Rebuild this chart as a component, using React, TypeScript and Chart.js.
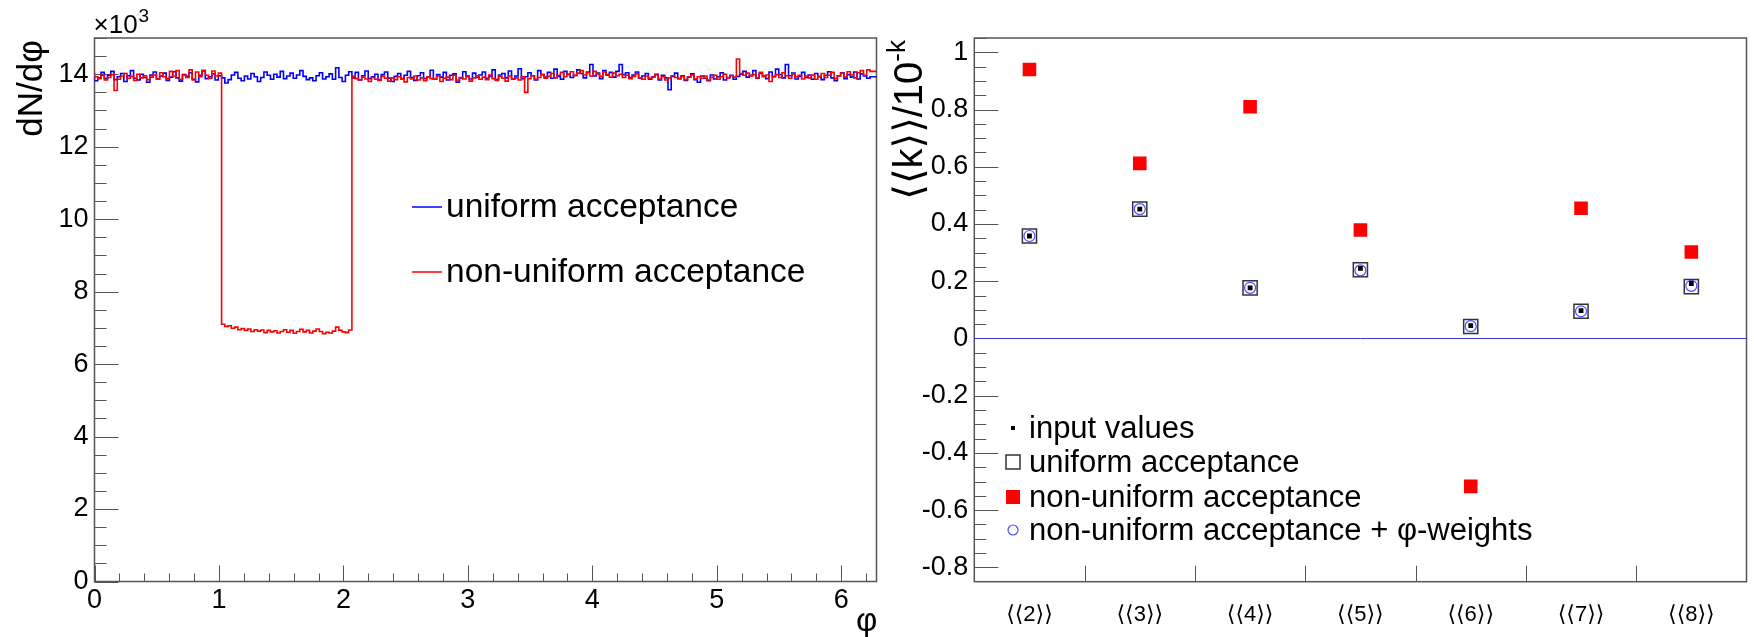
import React, { useEffect, useRef } from "react";
import { Chart, registerables } from "chart.js";
Chart.register(...registerables);

const FONT = "'Liberation Sans', Arial, Helvetica, sans-serif";
const BFONT = "'Liberation Sans', 'DejaVu Sans', sans-serif";

// ---- left panel: dN/dphi histograms (values in units of 10^3), 240 bins over [0, 2pi]
const PHI_MAX = 2 * Math.PI;
const uniformCounts = [
  13.95, 13.82, 13.9, 14.05, 13.88, 13.97, 14.08, 13.85, 13.93, 14.02, 13.8, 13.96, 14.1, 13.89, 13.84, 14.0, 13.91, 13.78, 13.98, 14.06,
  13.87, 13.95, 14.03, 13.83, 13.92, 14.07, 13.9, 13.81, 13.99, 13.94, 14.04, 13.86, 13.79, 13.97, 14.09, 13.88, 13.93, 14.01, 13.84, 13.96,
  13.9, 13.76, 13.85, 13.98, 14.05, 13.89, 13.82, 13.95, 13.87, 14.02, 13.93, 13.8, 13.91, 14.06, 13.97, 13.86, 14.0, 13.92, 14.08, 13.88,
  13.95, 14.03, 13.89, 13.98, 14.1, 13.94, 13.85, 13.9, 13.82, 13.96, 14.04, 13.87, 13.93, 14.01, 13.86, 14.18, 13.91, 13.8, 13.97, 14.07,
  13.9, 14.05, 13.84, 13.96, 14.09, 13.88, 13.93, 14.0, 13.85, 13.99, 14.06, 13.89, 13.8, 13.94, 14.02, 13.87, 13.97, 14.08, 13.91, 13.83,
  13.96, 14.04, 13.88, 13.93, 14.11, 13.86, 13.99, 13.92, 14.05, 13.84, 13.97, 14.01, 13.78, 13.9, 14.07, 13.95, 13.87, 14.03, 13.91, 13.98,
  14.06, 13.89, 13.94, 14.12, 13.85, 13.98, 14.02, 13.9, 14.09, 13.87, 13.95, 14.15, 13.88, 13.93, 14.04, 13.96, 13.84, 14.1, 13.99, 13.92,
  14.05, 13.89, 14.14, 13.94, 13.86, 14.08, 14.0, 13.91, 13.97, 14.12, 14.02, 13.9, 14.06, 14.27, 13.95, 14.03, 13.88, 14.1, 13.97, 14.05,
  13.92, 14.08, 14.27, 13.99, 14.04, 13.91, 13.98, 14.06, 13.89, 13.95, 14.02, 13.86, 13.93, 14.0, 13.84, 13.97, 13.9, 13.57, 13.94, 14.03,
  13.88, 13.96, 13.83, 13.92, 14.01, 13.85, 13.78, 13.95, 13.89, 13.82, 13.98, 13.87, 13.93, 14.04, 13.84, 13.91, 13.97, 13.86, 13.94, 14.0,
  14.08, 13.92, 13.97, 14.1, 13.89, 14.02, 13.95, 13.88, 14.06, 13.93, 14.14, 13.99, 13.9, 14.27, 13.96, 14.03, 13.87, 13.94, 14.05, 13.91,
  13.98, 13.86, 14.02, 13.93, 13.85, 13.97, 14.07, 13.9, 13.82, 13.96, 14.04, 13.88, 13.99, 13.92, 14.06, 13.87, 14.01, 13.95, 13.89, 13.93,
];
const nonUniformCounts = [
  14.05, 13.93, 13.88, 13.97, 13.84, 13.91, 13.99, 13.55, 13.86, 13.95, 14.02, 13.89, 13.94, 13.83, 14.0, 13.9, 13.96, 13.85, 13.92, 13.98,
  13.87, 14.04, 13.93, 13.88, 14.08, 13.95, 14.1, 13.86, 13.98, 13.91, 14.12, 13.84, 14.06, 13.93, 14.11, 13.97, 13.89, 14.09, 13.95, 14.03,
  7.1, 7.04, 7.06, 6.99, 7.02, 6.95, 6.98, 6.93, 6.97, 6.9, 6.95, 6.91, 6.94, 6.87, 6.93, 6.89, 6.92, 6.86, 6.9, 6.95,
  6.88, 6.93, 6.85, 6.9, 6.96, 6.89, 6.93, 6.86, 6.91, 6.97, 6.9, 6.84, 6.88, 6.86, 6.91, 7.02, 6.93, 6.89, 6.87, 6.94,
  13.95, 13.88, 13.84, 13.92, 13.87, 13.8, 13.91, 13.86, 13.83, 13.94, 13.89, 13.81, 13.9, 13.85, 13.93, 13.88, 13.79, 13.91, 13.87, 13.95,
  13.84, 13.9, 13.82, 13.93, 13.88, 13.86, 13.95, 13.8, 13.89, 13.92, 13.85, 13.97, 13.83, 13.91, 13.87, 13.94, 13.81, 13.9, 13.96, 13.86,
  13.92, 13.85, 13.98, 13.88, 13.83, 13.94, 13.89, 13.81, 13.95, 13.87, 13.9, 13.84, 13.93, 13.5, 13.88, 13.96, 13.86, 13.91, 13.99, 13.89,
  13.94, 14.02, 13.9, 13.97, 14.05, 13.93, 13.99, 14.07, 13.96, 14.03, 14.1, 13.98, 14.04, 13.95, 14.08, 14.01, 13.94, 14.06, 13.99, 13.92,
  14.03, 13.96, 14.0, 13.91, 13.97, 13.88, 13.94, 14.01, 13.9, 13.86, 13.95, 13.89, 13.92, 13.98, 13.87, 13.93, 13.84, 13.9, 13.96, 13.91,
  13.88, 13.94, 13.85, 13.92, 13.98, 13.87, 13.93, 13.89, 13.95, 13.84, 13.91, 13.97, 13.86, 13.93, 14.0, 13.9, 13.96, 13.92, 14.42, 14.02,
  13.97, 14.03, 13.95, 13.99, 13.9, 14.05, 13.93, 13.98, 13.8, 13.94, 13.99, 13.91, 14.04, 13.96, 13.89, 14.01, 13.93, 13.97, 13.87, 13.95,
  13.9, 13.98, 13.86, 13.94, 14.02, 13.91, 13.97, 14.05, 13.88, 13.95, 14.03, 13.92, 14.07, 13.98, 13.9, 14.04, 14.1, 13.97, 14.12, 14.08,
];

// ---- right panel: cumulants
const categories = ["⟨⟨2⟩⟩", "⟨⟨3⟩⟩", "⟨⟨4⟩⟩", "⟨⟨5⟩⟩", "⟨⟨6⟩⟩", "⟨⟨7⟩⟩", "⟨⟨8⟩⟩"];
const inputValues = [0.358, 0.452, 0.177, 0.245, 0.045, 0.097, 0.192];
const uniformValues = [0.358, 0.452, 0.177, 0.24, 0.042, 0.095, 0.181];
const nonUniformValues = [0.94, 0.612, 0.81, 0.379, -0.517, 0.455, 0.302];
const weightedValues = [0.358, 0.452, 0.177, 0.238, 0.043, 0.095, 0.184];

const W = 1754;
const H = 637;
const AXIS = "#555";

function stepPoints(vals: number[]) {
  const w = PHI_MAX / vals.length;
  const pts = vals.map((v, i) => ({ x: i * w, y: v }));
  pts.push({ x: PHI_MAX, y: vals[vals.length - 1] });
  return pts;
}

function tickLine(ctx: CanvasRenderingContext2D, x1: number, y1: number, x2: number, y2: number) {
  ctx.beginPath();
  ctx.moveTo(x1, y1);
  ctx.lineTo(x2, y2);
  ctx.stroke();
}

const leftDecor = {
  id: "leftDecor",
  beforeDatasetsDraw(chart: any) {
    const { ctx, chartArea: a, scales } = chart;
    const xs = scales.x, ys = scales.y;
    ctx.save();
    ctx.strokeStyle = AXIS;
    ctx.lineWidth = 1;
    for (let k = 0; k <= 30; k++) {
      const v = k * 0.5;
      const y = Math.round(ys.getPixelForValue(v)) + 0.5;
      if (y < a.top) continue;
      const len = k % 4 === 0 ? 24 : 12;
      tickLine(ctx, a.left, y, a.left + len, y);
    }
    for (let k = 0; k <= 31; k++) {
      const v = k * 0.2;
      const x = Math.round(xs.getPixelForValue(v)) + 0.5;
      if (x > a.right) continue;
      const len = k % 5 === 0 ? 16 : 8;
      tickLine(ctx, x, a.bottom, x, a.bottom - len);
    }
    ctx.lineWidth = 1.5;
    ctx.strokeRect(a.left, a.top, a.right - a.left, a.bottom - a.top);
    ctx.restore();
  },
  afterDraw(chart: any) {
    const { ctx, chartArea: a } = chart;
    ctx.save();
    ctx.fillStyle = "#000";
    // x10^3
    ctx.textAlign = "left";
    ctx.textBaseline = "alphabetic";
    ctx.font = `26px ${FONT}`;
    ctx.fillText("×10", a.left - 1, 33);
    const w = ctx.measureText("×10").width;
    ctx.font = `19px ${FONT}`;
    ctx.fillText("3", a.left - 1 + w + 1, 22);
    // y title
    ctx.save();
    ctx.translate(42, 40);
    ctx.rotate(-Math.PI / 2);
    ctx.font = `35px ${FONT}`;
    ctx.textAlign = "right";
    ctx.fillText("dN/dφ", 0, 0);
    ctx.restore();
    // x title
    ctx.font = `33px ${FONT}`;
    ctx.textAlign = "right";
    ctx.fillText("φ", a.right + 1, 631);
    // legend
    const rows = [
      { c: "#0000ff", t: "uniform acceptance", y: 207 },
      { c: "#ff0000", t: "non-uniform acceptance", y: 272 },
    ];
    ctx.font = `33.5px ${FONT}`;
    ctx.textAlign = "left";
    ctx.textBaseline = "middle";
    for (const r of rows) {
      ctx.strokeStyle = r.c;
      ctx.lineWidth = 1.5;
      tickLine(ctx, 412, r.y, 442, r.y);
      ctx.fillStyle = "#000";
      ctx.fillText(r.t, 446, r.y + 1);
    }
    ctx.restore();
  },
};

function drawMarker(ctx: CanvasRenderingContext2D, kind: string, x: number, y: number) {
  ctx.save();
  if (kind === "dot") {
    ctx.fillStyle = "#000";
    ctx.fillRect(x - 2, y - 2, 4, 4);
  } else if (kind === "open") {
    ctx.strokeStyle = "#333";
    ctx.lineWidth = 1.5;
    ctx.strokeRect(x - 7, y - 7, 14, 14);
  } else if (kind === "red") {
    ctx.fillStyle = "#ff0000";
    ctx.fillRect(x - 7, y - 7, 14, 14);
  } else {
    ctx.strokeStyle = "#4d4dff";
    ctx.lineWidth = 1.2;
    ctx.beginPath();
    ctx.arc(x, y, 5, 0, Math.PI * 2);
    ctx.stroke();
  }
  ctx.restore();
}

const rightDecor = {
  id: "rightDecor",
  beforeDatasetsDraw(chart: any) {
    const { ctx, chartArea: a, scales } = chart;
    const xs = scales.x, ys = scales.y;
    ctx.save();
    ctx.strokeStyle = AXIS;
    ctx.lineWidth = 1;
    for (let k = -17; k <= 21; k++) {
      const v = k * 0.05;
      const y = Math.round(ys.getPixelForValue(v)) + 0.5;
      if (y < a.top || y > a.bottom) continue;
      const len = k % 4 === 0 ? 24 : 12;
      tickLine(ctx, a.left, y, a.left + len, y);
    }
    for (let i = 0; i < categories.length - 1; i++) {
      const x = Math.round((xs.getPixelForTick(i) + xs.getPixelForTick(i + 1)) / 2) + 0.5;
      tickLine(ctx, x, a.bottom, x, a.bottom - 16);
    }
    ctx.lineWidth = 1.5;
    ctx.strokeRect(a.left, a.top, a.right - a.left, a.bottom - a.top);
    // zero line
    ctx.strokeStyle = "#3a3ad6";
    ctx.lineWidth = 1;
    const y0 = Math.round(ys.getPixelForValue(0)) + 0.5;
    tickLine(ctx, a.left, y0, a.right, y0);
    ctx.restore();
  },
  afterDraw(chart: any) {
    const { ctx } = chart;
    ctx.save();
    ctx.fillStyle = "#000";
    // y title, rotated, right-aligned at the top
    ctx.save();
    ctx.translate(42, 40);
    ctx.rotate(-Math.PI / 2);
    ctx.textBaseline = "alphabetic";
    ctx.textAlign = "left";
    ctx.font = `40px ${BFONT}`;
    const main = "⟨⟨k⟩⟩/10";
    const w1 = ctx.measureText(main).width;
    ctx.font = `26px ${BFONT}`;
    const sup = "-k";
    const w2 = ctx.measureText(sup).width;
    ctx.font = `40px ${BFONT}`;
    ctx.fillText(main, -(w1 + w2), 0);
    ctx.font = `26px ${BFONT}`;
    ctx.fillText(sup, -w2, -17);
    ctx.restore();
    // legend
    const rows = [
      { k: "dot", t: "input values", y: 428 },
      { k: "open", t: "uniform acceptance", y: 462 },
      { k: "red", t: "non-uniform acceptance", y: 497 },
      { k: "circle", t: "non-uniform acceptance + φ-weights", y: 530 },
    ];
    ctx.font = `31px ${FONT}`;
    ctx.textAlign = "left";
    ctx.textBaseline = "middle";
    for (const r of rows) {
      drawMarker(ctx, r.k, 133, r.y);
      ctx.fillStyle = "#000";
      ctx.fillText(r.t, 149, r.y + 1);
    }
    ctx.restore();
  },
};

export default function App() {
  const leftRef = useRef<HTMLCanvasElement>(null);
  const rightRef = useRef<HTMLCanvasElement>(null);

  useEffect(() => {
    document.body.style.margin = "0";
    const left = new Chart(leftRef.current!, {
      type: "line",
      data: {
        datasets: [
          {
            label: "uniform acceptance",
            data: stepPoints(uniformCounts),
            borderColor: "#0000ff",
            borderWidth: 1.6,
            stepped: "after",
            pointRadius: 0,
            fill: false,
            order: 1,
          },
          {
            label: "non-uniform acceptance",
            data: stepPoints(nonUniformCounts),
            borderColor: "#ff0000",
            borderWidth: 1.6,
            stepped: "after",
            pointRadius: 0,
            fill: false,
            order: 0,
          },
        ],
      } as any,
      options: {
        animation: false,
        responsive: false,
        events: [],
        layout: { padding: { top: 38, left: 0, right: 3.5, bottom: 0 } },
        plugins: { legend: { display: false }, tooltip: { enabled: false } },
        scales: {
          x: {
            type: "linear",
            min: 0,
            max: PHI_MAX,
            border: { display: false },
            grid: { display: false, drawTicks: false },
            ticks: {
              stepSize: 1,
              includeBounds: false,
              padding: 3,
              color: "#000",
              font: { family: FONT, size: 27 },
              maxRotation: 0,
              callback: (v: any) => String(Math.round(Number(v))),
            },
            afterFit: (s: any) => {
              s.height = H - 581.5;
            },
          },
          y: {
            min: 0,
            max: 15,
            border: { display: false },
            grid: { display: false, drawTicks: false },
            ticks: {
              stepSize: 2,
              includeBounds: false,
              padding: 6,
              color: "#000",
              font: { family: FONT, size: 27 },
              callback: (v: any) => String(Math.round(Number(v))),
            },
            afterFit: (s: any) => {
              s.width = 94.5;
            },
          },
        },
      } as any,
      plugins: [leftDecor],
    });

    const right = new Chart(rightRef.current!, {
      type: "line",
      data: {
        labels: categories,
        datasets: [
          {
            label: "input values",
            data: inputValues,
            showLine: false,
            pointStyle: "rect",
            pointRadius: 3.4,
            backgroundColor: "#000",
            borderColor: "#000",
            borderWidth: 0,
            order: 0,
          },
          {
            label: "non-uniform acceptance + φ-weights",
            data: weightedValues,
            showLine: false,
            pointStyle: "circle",
            pointRadius: 5.5,
            backgroundColor: "rgba(0,0,0,0)",
            borderColor: "#4d4dff",
            borderWidth: 1.2,
            order: 1,
          },
          {
            label: "uniform acceptance",
            data: uniformValues,
            showLine: false,
            pointStyle: "rect",
            pointRadius: 10,
            backgroundColor: "rgba(0,0,0,0)",
            borderColor: "#333",
            borderWidth: 1.5,
            order: 2,
          },
          {
            label: "non-uniform acceptance",
            data: nonUniformValues,
            showLine: false,
            pointStyle: "rect",
            pointRadius: 9.6,
            backgroundColor: "#ff0000",
            borderColor: "#ff0000",
            borderWidth: 0,
            order: 3,
          },
        ],
      } as any,
      options: {
        animation: false,
        responsive: false,
        events: [],
        layout: { padding: { top: 38, left: 0, right: 3, bottom: 0 } },
        plugins: { legend: { display: false }, tooltip: { enabled: false } },
        scales: {
          x: {
            type: "category",
            offset: true,
            border: { display: false },
            grid: { display: false, drawTicks: false },
            ticks: {
              autoSkip: false,
              maxRotation: 0,
              padding: 20,
              color: "#000",
              font: { family: BFONT, size: 22 },
            },
            afterFit: (s: any) => {
              s.height = H - 581.7;
            },
          },
          y: {
            min: -0.85,
            max: 1.05,
            border: { display: false },
            grid: { display: false, drawTicks: false },
            ticks: {
              stepSize: 0.2,
              includeBounds: false,
              padding: 6,
              color: "#000",
              font: { family: FONT, size: 27 },
              callback: (v: any) => String(Math.round(Number(v) * 10) / 10),
            },
            afterFit: (s: any) => {
              s.width = 94.3;
            },
          },
        },
      } as any,
      plugins: [rightDecor],
    });

    return () => {
      left.destroy();
      right.destroy();
    };
  }, []);

  return (
    <div style={{ position: "relative", width: W, height: H, overflow: "hidden", background: "#fff" }}>
      <canvas ref={leftRef} width={880} height={H} style={{ position: "absolute", left: 0, top: 0, width: 880, height: H }} />
      <canvas ref={rightRef} width={878} height={H} style={{ position: "absolute", left: 880, top: 0, width: 878, height: H }} />
    </div>
  );
}
